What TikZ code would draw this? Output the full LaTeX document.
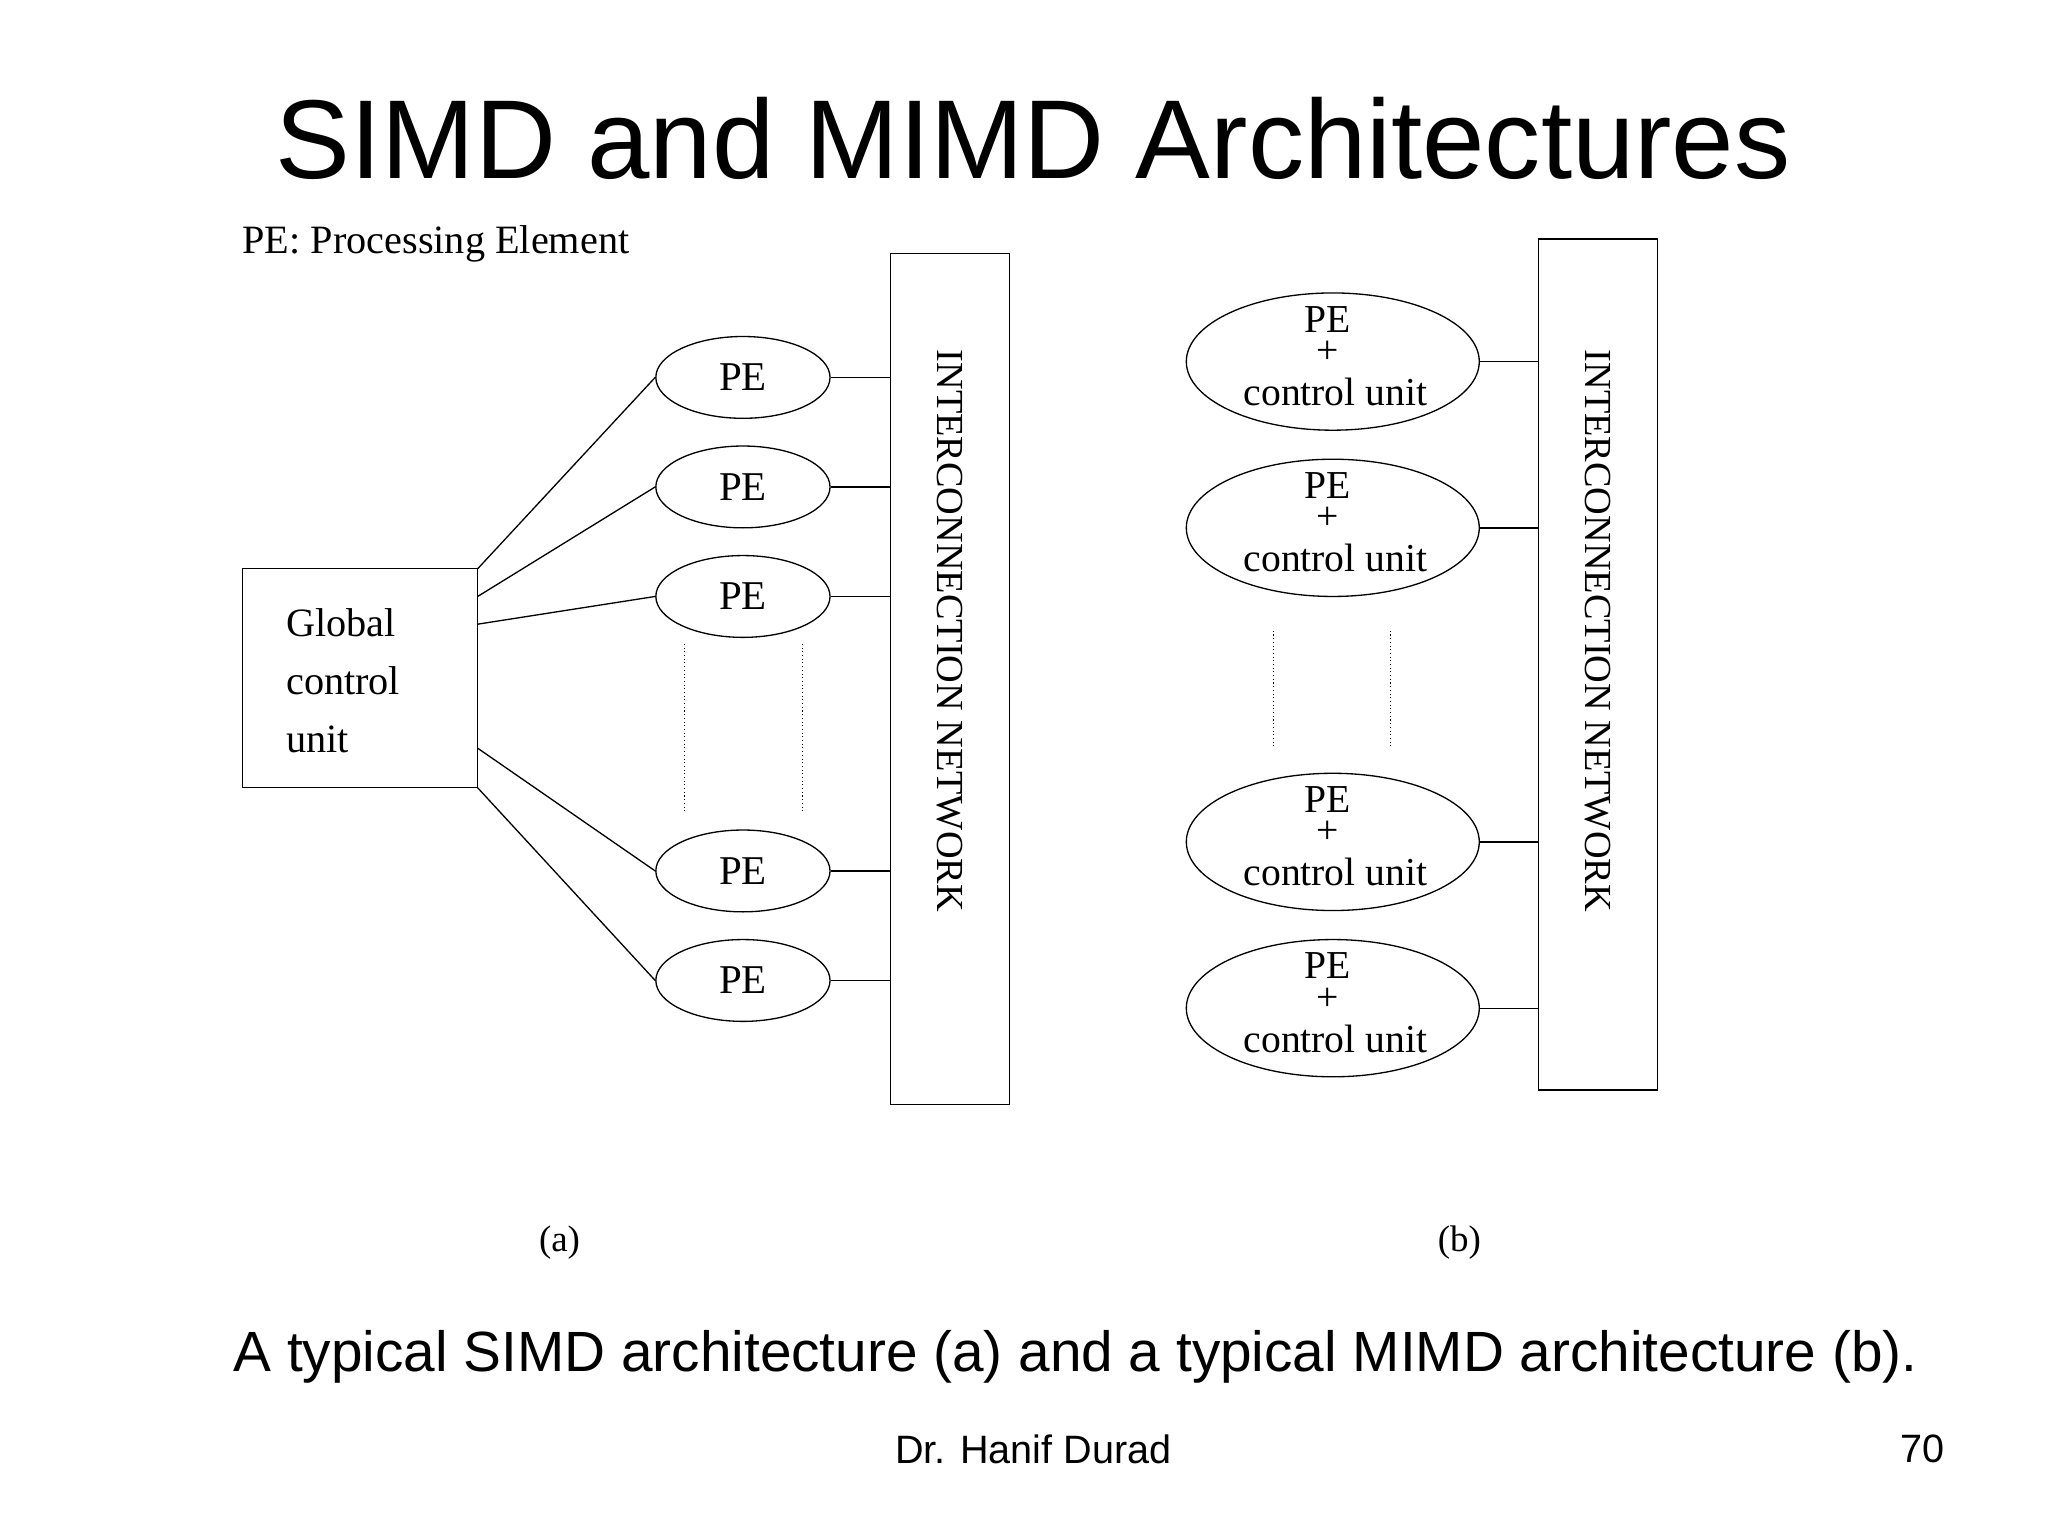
\documentclass[tikz,border=0pt]{standalone}
\usetikzlibrary{shapes.geometric}
\usepackage{fontspec}
\setmainfont{Liberation Serif}
\newfontfamily\arial{Liberation Sans}
\begin{document}
\begin{tikzpicture}[x=1pt,y=-1pt,line width=1pt,
 pea/.style={draw,ellipse,minimum width=132pt,minimum height=62pt,inner sep=0pt,font=\fontsize{31}{30}\selectfont},
 peb/.style={draw,ellipse,minimum width=222pt,minimum height=104pt,inner sep=0pt},
 tb/.style={font=\fontsize{30}{30}\selectfont,inner sep=0pt},
 net/.style={draw,inner sep=0pt},
 dots/.style={dotted,line width=0.8pt}]
\useasboundingbox (0,0) rectangle (1552,1164);
\node[font=\arial\fontsize{85}{90}\selectfont] (title) at (783,105) {SIMD and MIMD Architectures};
\node[anchor=west,font=\fontsize{30.5}{30}\selectfont] (legend) at (180,185) {PE: Processing Element};
% (a)
\node[net,minimum width=90pt,minimum height=645pt] (neta) at (720,514.5) {};
\node[rotate=-90,font=\fontsize{29}{30}\selectfont] (netat) at (720,478) {INTERCONNECTION NETWORK};
\node[net,minimum width=178pt,minimum height=166pt] (gcu) at (273,514) {};
\node[anchor=west,align=left,font=\fontsize{30.5}{44}\selectfont] (gcut) at (213,516) {Global\\control\\unit};
\foreach \i/\y in {1/286,2/369,3/452,4/660,5/743}{
 \node[pea] (a\i) at (563,\y) {PE};
 \draw (a\i.east) -- (a\i.east -| neta.west);
}
\coordinate (s1) at (362,431); \coordinate (s2) at (362,452);
\coordinate (s3) at (362,473); \coordinate (s4) at (362,567);
\coordinate (s5) at (362,597);
\foreach \i in {1,...,5}{\draw (s\i) -- (a\i.west);}
\coordinate (d1) at (519,488); \coordinate (d2) at (519,615);
\coordinate (d3) at (608,488); \coordinate (d4) at (608,615);
\draw[dots] (d1) -- (d2); \draw[dots] (d3) -- (d4);
\node[font=\fontsize{28}{30}\selectfont] (la) at (424,942) {(a)};
% (b)
\node[net,minimum width=90pt,minimum height=645pt] (netb) at (1211,503.5) {};
\node[rotate=-90,font=\fontsize{29}{30}\selectfont] (netbt) at (1211,478) {INTERCONNECTION NETWORK};
\foreach \i/\y in {1/274,2/400,3/638,4/764}{
 \node[peb] (b\i) at (1010,\y) {};
 \node[tb] (bp\i) at (1006,\y-32) {PE};
 \node[tb] (bplus\i) at (1006,\y-7) {+};
 \node[tb] (bc\i) at (1012,\y+23) {control unit};
 \draw (b\i.east) -- (b\i.east -| netb.west);
}
\coordinate (e1) at (965,478); \coordinate (e2) at (965,565);
\coordinate (e3) at (1054,478); \coordinate (e4) at (1054,565);
\draw[dots] (e1) -- (e2); \draw[dots] (e3) -- (e4);
\node[font=\fontsize{28}{30}\selectfont] (lb) at (1106,942) {(b)};
\node[font=\arial\fontsize{43}{44}\selectfont] (cap) at (815,1028) {A typical SIMD architecture (a) and a typical MIMD architecture (b).};
\node[font=\arial\fontsize{30}{30}\selectfont] (auth) at (783,1098) {Dr. Hanif Durad};
\node[font=\arial\fontsize{30}{30}\selectfont] (pg) at (1457,1098) {70};
\end{tikzpicture}
\end{document}
